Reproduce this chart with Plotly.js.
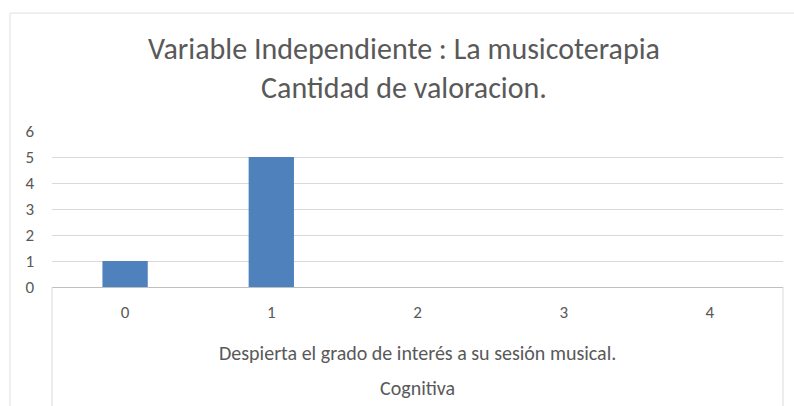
<!DOCTYPE html>
<html><head><meta charset="utf-8">
<script src="https://cdn.plot.ly/plotly-3.0.1.min.js"></script>
<style>html,body{margin:0;padding:0;background:#fff}#chart{width:794px;height:406px}</style>
</head><body><div id="chart"></div>
<script>
const categories = ["0", "1", "2", "3", "4"];
const values = [1, 5, 0, 0, 0];
const level2Label = "Despierta el grado de interés a su sesión musical.";
const level3Label = "Cognitiva";
const titleLines = ["Variable Independiente : La musicoterapia", "Cantidad de valoracion."];
const yTicks = [0, 1, 2, 3, 4, 5, 6];

const FONT = "Carlito, Calibri, 'Liberation Sans Narrow', 'Open Sans', sans-serif";
const TXT = "#595959";
const GRID = "#d9d9d9";

const trace = {
  type: "bar", x: categories, y: values,
  marker: {color: "#4f81bd"}, width: 0.31, hoverinfo: "skip"
};

const layout = {
  width: 794, height: 406,
  margin: {l: 52, r: 11, t: 131, b: 119},
  paper_bgcolor: "#fff", plot_bgcolor: "#fff",
  showlegend: false,
  font: {family: FONT, color: TXT, size: 17},
  title: {text: titleLines.join("<br>"), font: {family: FONT, size: 30, color: TXT},
    x: 404 / 794, xanchor: "center", y: 1 - 59 / 406, yanchor: "middle", yref: "container"},
  xaxis: {type: "category", showgrid: false, zeroline: false,
    showline: true, linecolor: "#bfbfbf", linewidth: 1,
    ticks: "", ticklabelstandoff: 10, tickfont: {family: FONT, size: 17, color: TXT}},
  yaxis: {range: [0, 6], tickvals: yTicks, showgrid: true, gridcolor: GRID, gridwidth: 1,
    zeroline: false, showline: false, ticks: "", ticklabelstandoff: 17,
    tickfont: {family: FONT, size: 17, color: TXT}},
  annotations: [
    {text: level2Label, xref: "paper", yref: "paper", x: 0.5, y: -0.425, showarrow: false,
      xanchor: "center", yanchor: "middle", font: {family: FONT, size: 20, color: TXT}},
    {text: level3Label, xref: "paper", yref: "paper", x: 0.5, y: -0.645, showarrow: false,
      xanchor: "center", yanchor: "middle", font: {family: FONT, size: 20, color: TXT}}
  ],
  shapes: [
    {type: "line", xref: "paper", yref: "paper", x0: 0, x1: 0, y0: 0, y1: -0.8,
      line: {color: GRID, width: 1}},
    {type: "line", xref: "paper", yref: "paper", x0: 1, x1: 1, y0: 0, y1: -0.8,
      line: {color: GRID, width: 1}},
    {type: "line", xref: "paper", yref: "paper", x0: -0.0575, x1: -0.0575, y0: 1.756, y1: -0.8,
      line: {color: "#e0e0e0", width: 1}},
    {type: "line", xref: "paper", yref: "paper", x0: -0.0575, x1: 1.02, y0: 1.756, y1: 1.756,
      line: {color: "#e0e0e0", width: 1}}
  ]
};

Plotly.newPlot("chart", [trace], layout, {displayModeBar: false, staticPlot: true});
</script></body></html>
